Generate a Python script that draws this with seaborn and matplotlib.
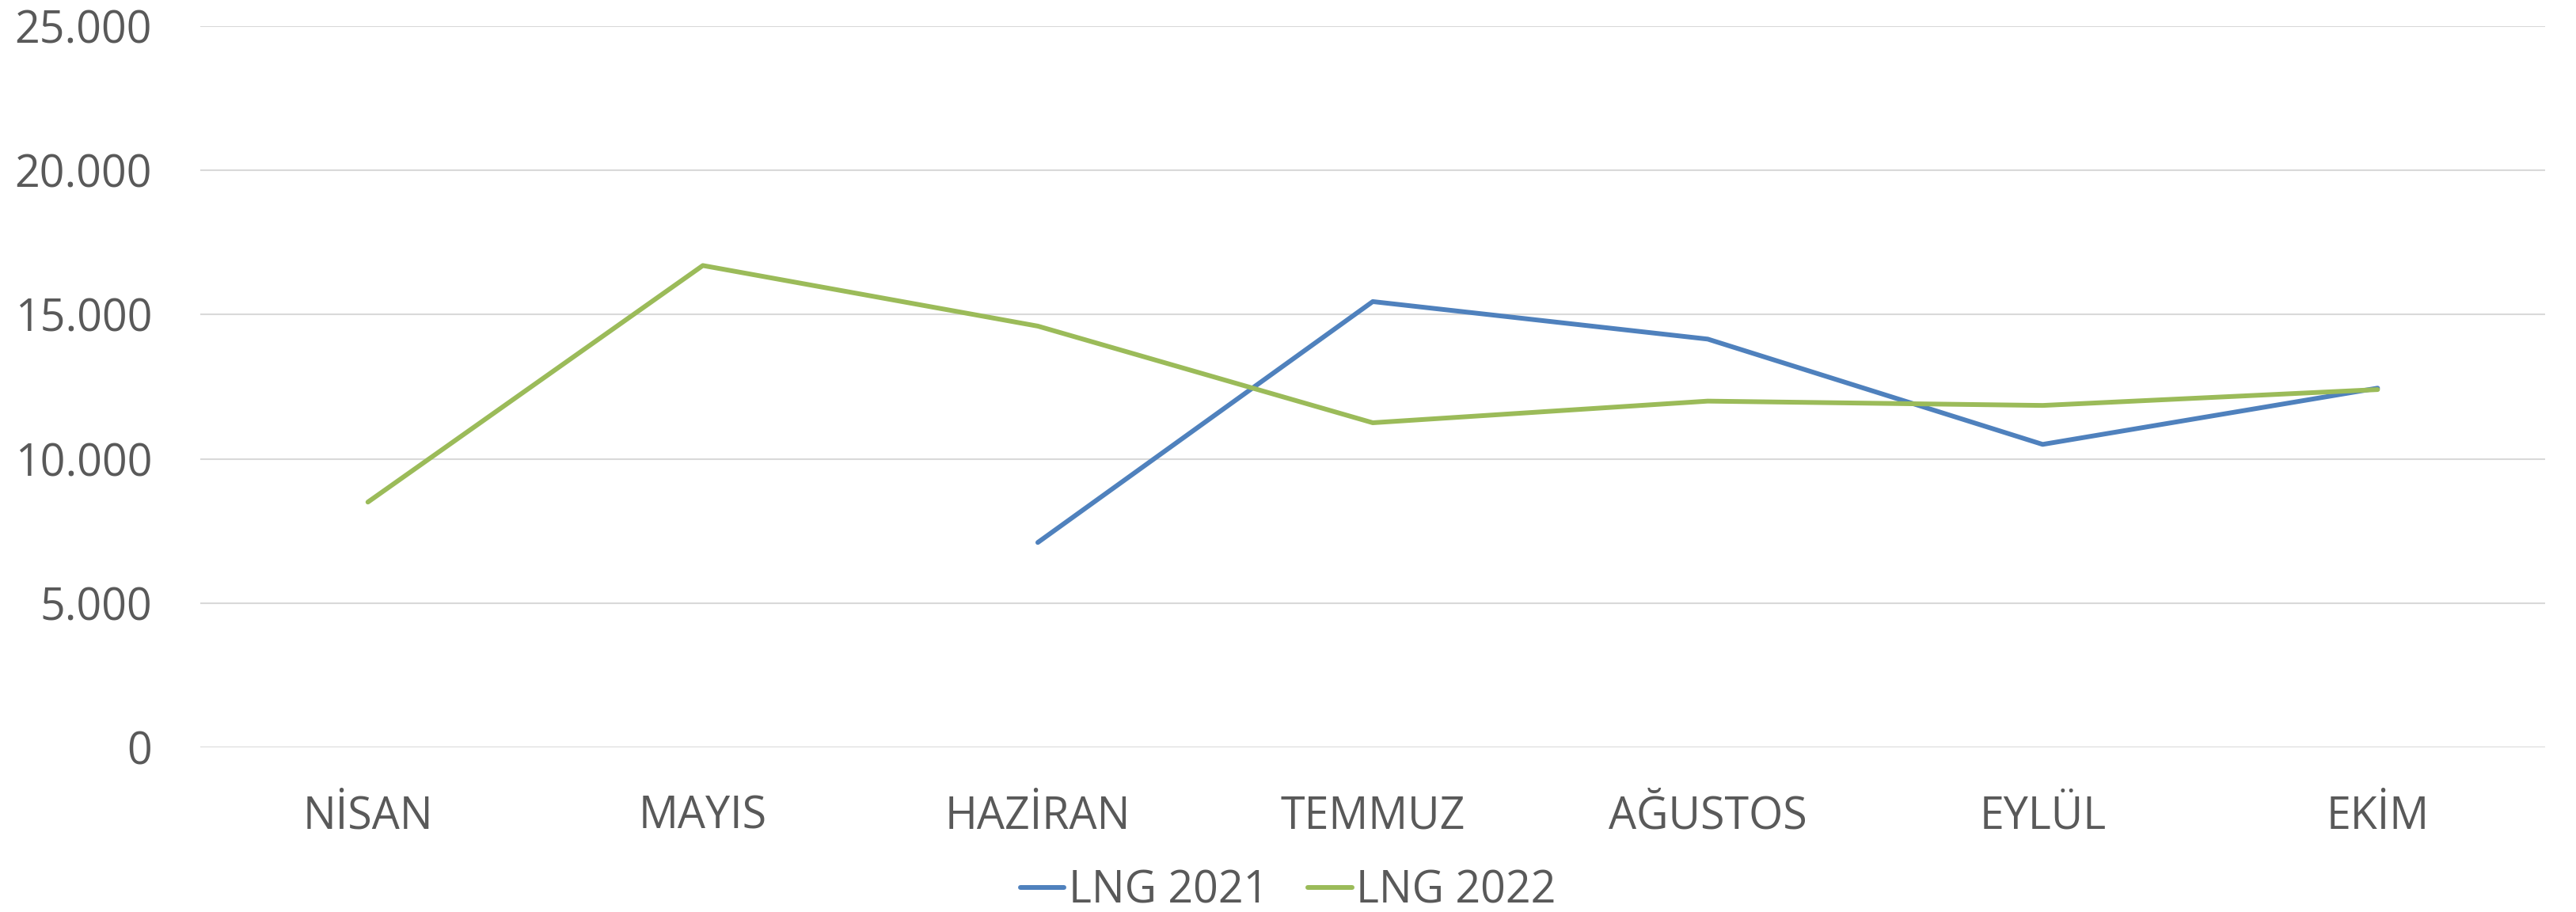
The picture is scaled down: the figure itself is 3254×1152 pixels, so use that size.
import matplotlib
matplotlib.use("Agg")
import matplotlib.pyplot as plt
import seaborn as sns
import pandas as pd
from matplotlib.ticker import FuncFormatter

# Aylar ve değerler
months = ["NİSAN", "MAYIS", "HAZİRAN", "TEMMUZ", "AĞUSTOS", "EYLÜL", "EKİM"]
lng_2021_months = ["HAZİRAN", "TEMMUZ", "AĞUSTOS", "EYLÜL", "EKİM"]
lng_2021 = [7100, 15450, 14150, 10500, 12450]
lng_2022 = [8500, 16700, 14600, 11250, 12000, 11850, 12400]
series_names = ["LNG 2021", "LNG 2022"]
colors = ["#4F81BD", "#9BBB59"]
y_ticks = [0, 5000, 10000, 15000, 20000, 25000]

rows = []
for m, v in zip(lng_2021_months, lng_2021):
    rows.append({"x": months.index(m), "value": v, "series": "LNG 2021"})
for m, v in zip(months, lng_2022):
    rows.append({"x": months.index(m), "value": v, "series": "LNG 2022"})
df = pd.DataFrame(rows)

sns.set_style("white")
plt.rcParams["font.family"] = ["Open Sans", "DejaVu Sans"]

fig = plt.figure(figsize=(32.54, 11.52), dpi=100)
ax = fig.add_axes([0.0778, 0.1806, 0.9102, 0.7908])

sns.lineplot(data=df, x="x", y="value", hue="series", hue_order=series_names,
             palette=colors, linewidth=4.3, ax=ax, legend=True)

ax.set_xlim(-0.5, len(months) - 0.5)
ax.set_ylim(0, 25000)
ax.set_yticks(y_ticks)
ax.yaxis.set_major_formatter(FuncFormatter(lambda v, p: f"{int(v):,}".replace(",", ".")))
ax.set_xticks(range(len(months)))
ax.set_xticklabels(months)
ax.yaxis.grid(True, color="#D9D9D9", linewidth=1.5)
ax.set_axisbelow(True)
for s in ax.spines.values():
    s.set_visible(False)
ax.tick_params(axis="both", length=0, labelsize=40, labelcolor="#595959")
ax.tick_params(axis="x", pad=43)
ax.tick_params(axis="y", pad=44)
ax.set_xlabel("")
ax.set_ylabel("")

handles, labels = ax.get_legend_handles_labels()
ax.get_legend().remove()
fig.legend(handles=handles, labels=labels, loc="center",
           bbox_to_anchor=(0.5, 0.023), ncol=2, frameon=False, fontsize=40,
           handlelength=1.0, handletextpad=0.1, columnspacing=0.9,
           labelcolor="#595959")

fig.savefig("out.png", dpi=100)
